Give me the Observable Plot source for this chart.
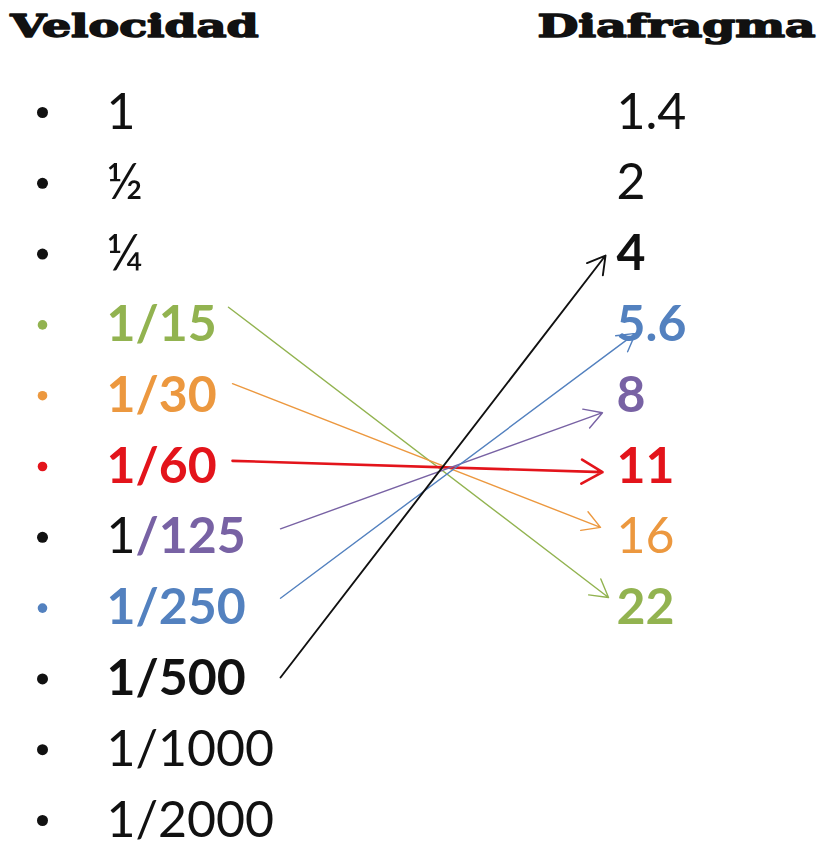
<!DOCTYPE html>
<html><head><meta charset="utf-8">
<script src="https://cdn.jsdelivr.net/npm/d3@7"></script>
<script src="https://cdn.jsdelivr.net/npm/@observablehq/plot@0.6"></script>
<style>body{margin:0;background:#fff}</style>
</head><body><div id="chart"></div>
<script>
// ---- data ----
const titleLeft = "Velocidad";
const titleRight = "Diafragma";
const speedLabels = ["1", "½", "¼", "1/15", "1/30", "1/60", "1/125", "1/250", "1/500", "1/1000", "1/2000"];
const apertureLabels = ["1.4", "2", "4", "5.6", "8", "11", "16", "22"];
// arrows: which shutter speed is paired with which aperture
const arrowFrom = ["1/15", "1/30", "1/60", "1/125", "1/250", "1/500"];
const arrowTo = ["22", "16", "11", "8", "5.6", "4"];
// arrow ends (row units vertically, horizontal units across)
const arrowStartRow = [2.75, 3.83, 4.92, 5.88, 6.86, 7.98];
const arrowEndRow = [6.85, 5.86, 5.08, 4.24, 3.12, 2.02];
const arrowStartX = [228, 232, 232, 280, 280, 280];
const arrowEndX = [608, 600, 602, 602, 635, 605];

// ---- styles ----
const C = {green: "#92b350", orange: "#ec983f", red: "#e3141b", purple: "#7862a4", blue: "#5381bf", black: "#111111"};
const speedColor = ["black", "black", "black", "green", "orange", "red", "purple", "blue", "black", "black", "black"];
const bulletColor = ["black", "black", "black", "green", "orange", "red", "black", "blue", "black", "black", "black"];
const speedWeight = ["normal", "normal", "normal", "bold", "bold", "bold", "mixed", "bold", "bold", "normal", "normal"];
const apertureColor = ["black", "black", "black", "blue", "purple", "red", "orange", "green"];
const apertureWeight = ["normal", "normal", "bold", "bold", "bold", "bold", "normal", "bold"];
const X = {bullet: 42, speed: 106, aperture: 616};
const FS = 50;

const speeds = speedLabels.map((label, i) => ({label, row: i, color: C[speedColor[i]], bullet: C[bulletColor[i]], weight: speedWeight[i], r: bulletColor[i] === "black" ? 5.5 : 4.8}));
const apertures = apertureLabels.map((label, i) => ({label, row: i, color: C[apertureColor[i]], weight: apertureWeight[i]}));
const arrows = arrowFrom.map((f, i) => {
  const s = speeds.find(d => d.label === f);
  const sw = s.color === C.red ? 2.6 : s.color === C.black ? 1.9 : 1.4;
  const wing = s.color === C.red ? 24 : 20;
  return {from: f, to: arrowTo[i], x1: arrowStartX[i], y1: arrowStartRow[i], x2: arrowEndX[i], y2: arrowEndRow[i], color: s.color, sw, headLength: 1.5 * wing / sw};
});

const textOpts = (w) => ({textAnchor: "start", lineAnchor: "middle", fontSize: FS, fontWeight: w, fill: "color", text: "label", y: "row"});
const titleOpts = {dy: 14, lineAnchor: "top", fontFamily: "DejaVu Serif", fontWeight: "bold", fontSize: 31, fill: "#111", stroke: "#111", strokeWidth: 1.5};

const chart = Plot.plot({
  width: 818, height: 850, margin: 0,
  x: {domain: [0, 818], range: [0, 818], axis: null},
  y: {domain: [0, 10], range: [112, 820], axis: null},
  color: {type: "identity"}, r: {type: "identity"},
  style: {fontFamily: "Lato", background: "white", overflow: "visible"},
  marks: [
    Plot.dot(speeds, {x: () => X.bullet, y: "row", r: "r", fill: "bullet"}),
    Plot.text(speeds.filter(d => d.weight === "normal"), {...textOpts("normal"), x: () => X.speed}),
    Plot.text(speeds.filter(d => d.weight === "bold"), {...textOpts("bold"), x: () => X.speed}),
    Plot.text(speeds.filter(d => d.weight === "mixed"), {...textOpts("bold"), x: () => X.speed}),
    Plot.text(apertures.filter(d => d.weight === "normal"), {...textOpts("normal"), x: () => X.aperture}),
    Plot.text(apertures.filter(d => d.weight === "bold"), {...textOpts("bold"), x: () => X.aperture}),
    ...arrows.map(a => Plot.arrow([a], {x1: "x1", y1: "y1", x2: "x2", y2: "y2", stroke: "color", strokeWidth: a.sw, headLength: a.headLength, headAngle: 60})),
    Plot.text([titleLeft], {...titleOpts, frameAnchor: "top-left", dx: 10, textAnchor: "start"}),
    Plot.text([titleRight], {...titleOpts, frameAnchor: "top-right", dx: -3, textAnchor: "end"})
  ]
});

// split the two-coloured label and stretch the titles
chart.querySelectorAll("text").forEach(t => {
  const s = t.textContent;
  if (s === "1/125") {
    t.textContent = "";
    const ns = "http://www.w3.org/2000/svg";
    const a = document.createElementNS(ns, "tspan");
    a.textContent = "1"; a.setAttribute("fill", C.black); a.setAttribute("font-weight", "normal");
    const b = document.createElementNS(ns, "tspan");
    b.textContent = "/125"; b.setAttribute("fill", C.purple); b.setAttribute("font-weight", "bold");
    t.appendChild(a); t.appendChild(b);
  } else if (s === titleLeft) {
    t.setAttribute("textLength", 248); t.setAttribute("lengthAdjust", "spacingAndGlyphs");
  } else if (s === titleRight) {
    t.setAttribute("textLength", 278); t.setAttribute("lengthAdjust", "spacingAndGlyphs");
  }
});
document.getElementById("chart").appendChild(chart);
</script>
</body></html>
